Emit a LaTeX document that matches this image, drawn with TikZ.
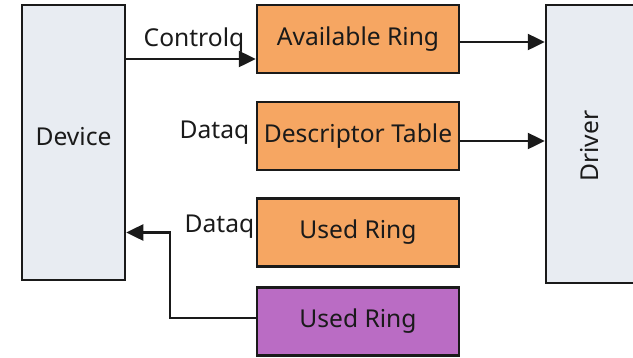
\documentclass[tikz,border=0pt]{standalone}
\usepackage{fontspec}
\setmainfont{Noto Sans}
\usetikzlibrary{arrows.meta,calc}
\definecolor{panel}{HTML}{E8ECF2}
\definecolor{ringorange}{HTML}{F6A662}
\definecolor{ringpurple}{HTML}{BA6CC4}
\definecolor{ink}{HTML}{1A1A1A}
\begin{document}
\begin{tikzpicture}[x=1pt,y=-1pt,
  every node/.style={font=\fontsize{24.6}{28}\selectfont, text=ink},
  side/.style={draw=ink, line width=2.5pt, fill=panel, inner sep=0pt},
  ring/.style={draw=ink, line width=2.5pt, fill=ringorange, inner sep=0pt,
               minimum width=202pt, minimum height=68pt},
  usedring/.style={ring, fill=ringpurple},
  link/.style={draw=ink, line width=2.5pt, -{Triangle[length=17pt,width=16pt]}},
  tag/.style={inner sep=0pt}]
\useasboundingbox (0,0) rectangle (633,357);

% side panels
\node[side, minimum width=103pt, minimum height=275pt] (dev) at (73.5,142.5) {};
\node at (73.5,137) {Device};
\node[side, minimum width=89pt, minimum height=278pt] (drv) at (590.5,144) {};
\node[rotate=90] at (590,146) {Driver};

% rings
\node[ring] (avail) at (358,39) {Available Ring};
\node[ring] (desc) at (358,136) {Descriptor Table};
\node[ring] (used) at (358,232.5) {Used Ring};
\node[usedring] (usedp) at (358,321.5) {Used Ring};

% queue labels
\node[tag] (ctl) at (194,40) {Controlq};
\node[tag] (dq1) at (214.5,133) {Dataq};
\node[tag] (dq2) at (219.5,227) {Dataq};

% connectors
\draw[link] ([yshift=-20pt]avail.west -| dev.east) -- ([yshift=-20pt]avail.west);
\draw[link] ([yshift=-3pt]avail.east) -- ([yshift=-3pt]avail.east -| drv.west);
\draw[link] ([yshift=-5pt]desc.east) -- ([yshift=-5pt]desc.east -| drv.west);
\coordinate (bend) at (170,318);
\draw[link] ([yshift=3.5pt]usedp.west) -- ([yshift=3.5pt]usedp.west -| bend)
  -- (bend |- used.west) -- (used.west -| dev.east);
\end{tikzpicture}
\end{document}
